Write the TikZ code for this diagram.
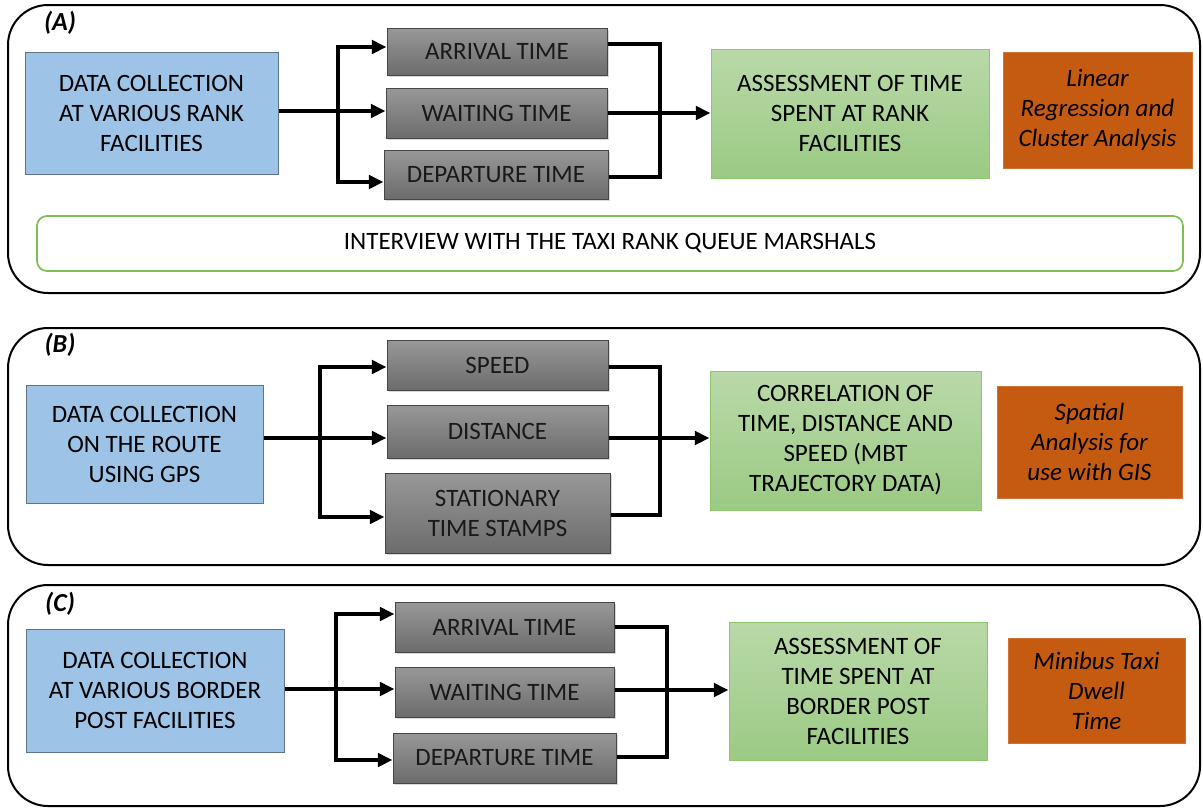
\documentclass[tikz,border=0pt]{standalone}
\usepackage{fontspec}
\setmainfont{Carlito}
\usetikzlibrary{arrows.meta,shadows}
\definecolor{blueF}{RGB}{157,195,230}
\definecolor{blueD}{RGB}{95,115,140}
\definecolor{grayT}{RGB}{152,152,152}
\definecolor{grayB}{RGB}{108,108,108}
\definecolor{grayD}{RGB}{70,70,70}
\definecolor{grayTxt}{RGB}{25,25,25}
\definecolor{greenT}{RGB}{185,217,168}
\definecolor{greenB}{RGB}{155,202,132}
\definecolor{greenD}{RGB}{140,198,110}
\definecolor{orangeF}{RGB}{197,90,17}
\definecolor{ivG}{RGB}{125,190,85}
\begin{document}
\begin{tikzpicture}[x=0.75pt,y=-0.75pt,
  sz/.style 2 args={minimum width=#1*0.75pt, minimum height=#2*0.75pt},
  base/.style={inner sep=0pt, align=center, font=\fontsize{18.75}{22.5}\selectfont},
  bluebox/.style={base, draw=blueD, line width=0.75pt, fill=blueF},
  graybox/.style={base, draw=grayD, line width=0.75pt, top color=grayT, bottom color=grayB, text=grayTxt,
     drop shadow={shadow xshift=1.2pt, shadow yshift=-1.2pt, opacity=0.3}},
  greenbox/.style={base, draw=greenD, line width=0.75pt, top color=greenT, bottom color=greenB},
  orangebox/.style={base, draw=orangeF!85!white, line width=0.75pt, fill=orangeF, font=\fontsize{18.75}{22.5}\selectfont\itshape},
  ivbox/.style={base, draw=ivG, line width=1.3pt, rounded corners=7.5pt, fill=white},
  panel/.style={draw=black, line width=1.5pt, rounded corners=30pt},
  plabel/.style={inner sep=0pt, font=\fontsize{19.5}{21}\selectfont\bfseries\itshape},
  ln/.style={line width=3pt, black},
  arr/.style={-{Triangle[length=11pt,width=10pt]}},
  both/.style={{Triangle[length=11pt,width=10pt]}-{Triangle[length=11pt,width=10pt]}}
]
\useasboundingbox (0,0) rectangle (1203,808);

% ---------------- Panel A ----------------
\draw[panel] (8,5) rectangle (1200,293);
\node[plabel] (labA) at (60,23) {(A)};
\node[bluebox, sz={253}{122}] (blueA) at (151.5,113) {DATA COLLECTION\\AT VARIOUS RANK\\FACILITIES};
\node[graybox, sz={220}{47}] (grayA1) at (497,51.5) {ARRIVAL TIME};
\node[graybox, sz={221}{50}] (grayA2) at (496.5,113) {WAITING TIME};
\node[graybox, sz={224}{49}] (grayA3) at (496,174.5) {DEPARTURE TIME};
\node[greenbox, sz={278}{129}] (greenA) at (850,113.5) {ASSESSMENT OF TIME\\SPENT AT RANK\\FACILITIES};
\node[orangebox, sz={189}{116}] (orangeA) at (1097.5,110) {Linear\\Regression and\\Cluster Analysis};
\node[ivbox, sz={1146}{55}] (ivA) at (610,243.5) {INTERVIEW WITH THE TAXI RANK QUEUE MARSHALS};
\coordinate (lA1) at (338,47);
\coordinate (lA2) at (338,111);
\coordinate (lA3) at (338,182);
\coordinate (rA1) at (660,44);
\coordinate (rA2) at (660,113);
\coordinate (rA3) at (660,177);
\draw[ln,arr] (blueA.east |- lA2) -- (grayA2.west |- lA2);
\draw[ln,both] (grayA1.west |- lA1) -| (lA3) -- (grayA3.west |- lA3);
\draw[ln] (grayA1.east |- rA1) -| (rA3) -- (grayA3.east |- rA3);
\draw[ln,arr] (grayA2.east |- rA2) -- (greenA.west |- rA2);

% ---------------- Panel B ----------------
\draw[panel] (8,328) rectangle (1200,565);
\node[plabel] (labB) at (60,345) {(B)};
\node[bluebox, sz={237}{118}] (blueB) at (144.5,444) {DATA COLLECTION\\ON THE ROUTE\\USING GPS};
\node[graybox, sz={221}{50}] (grayB1) at (497.5,365) {SPEED};
\node[graybox, sz={221}{53}] (grayB2) at (497.5,431.5) {DISTANCE};
\node[graybox, sz={225}{80}] (grayB3) at (497.5,513) {STATIONARY\\TIME STAMPS};
\node[greenbox, sz={271}{139}] (greenB) at (845.5,440.5) {CORRELATION OF\\TIME, DISTANCE AND\\SPEED (MBT\\TRAJECTORY DATA)};
\node[orangebox, sz={185}{112}] (orangeB) at (1089.5,442) {Spatial\\Analysis for\\use with GIS};
\coordinate (lB1) at (320,367);
\coordinate (lB2) at (320,438);
\coordinate (lB3) at (320,517);
\coordinate (rB1) at (660,367);
\coordinate (rB2) at (660,438);
\coordinate (rB3) at (660,515);
\draw[ln,arr] (blueB.east |- lB2) -- (grayB2.west |- lB2);
\draw[ln,both] (grayB1.west |- lB1) -| (lB3) -- (grayB3.west |- lB3);
\draw[ln] (grayB1.east |- rB1) -| (rB3) -- (grayB3.east |- rB3);
\draw[ln,arr] (grayB2.east |- rB2) -- (greenB.west |- rB2);

% ---------------- Panel C ----------------
\draw[panel] (8,585) rectangle (1200,806);
\node[plabel] (labC) at (60,604) {(C)};
\node[bluebox, sz={258}{123}] (blueC) at (155,690.5) {DATA COLLECTION\\AT VARIOUS BORDER\\POST FACILITIES};
\node[graybox, sz={219}{50}] (grayC1) at (504.5,627) {ARRIVAL TIME};
\node[graybox, sz={219}{50}] (grayC2) at (504.5,692) {WAITING TIME};
\node[graybox, sz={223}{50}] (grayC3) at (504.5,758) {DEPARTURE TIME};
\node[greenbox, sz={258}{138}] (greenC) at (858,691) {ASSESSMENT OF\\TIME SPENT AT\\BORDER POST\\FACILITIES};
\node[orangebox, sz={177}{105}] (orangeC) at (1096.5,690.5) {Minibus Taxi\\Dwell\\Time};
\coordinate (lC1) at (336,614);
\coordinate (lC2) at (336,689);
\coordinate (lC3) at (336,760);
\coordinate (rC1) at (667,627);
\coordinate (rC2) at (667,690);
\coordinate (rC3) at (667,757);
\draw[ln,arr] (blueC.east |- lC2) -- (grayC2.west |- lC2);
\draw[ln,both] (grayC1.west |- lC1) -| (lC3) -- (grayC3.west |- lC3);
\draw[ln] (grayC1.east |- rC1) -| (rC3) -- (grayC3.east |- rC3);
\draw[ln,arr] (grayC2.east |- rC2) -- (greenC.west |- rC2);
\end{tikzpicture}
\end{document}
